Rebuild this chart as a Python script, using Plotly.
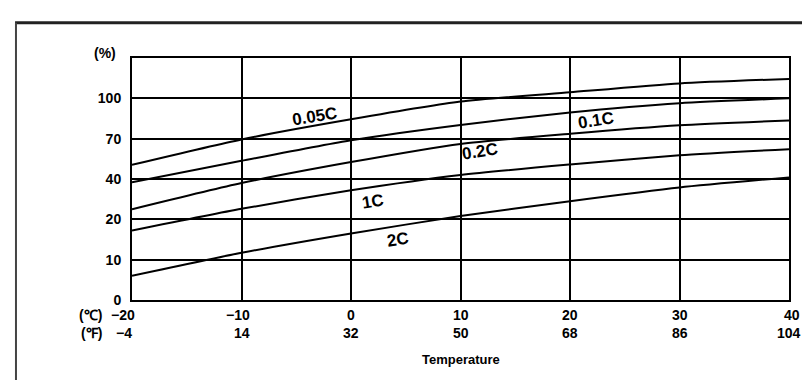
import plotly.graph_objects as go

# ---- data ----
temp_c = [-20, -10, 0, 10, 20, 30, 40]
temp_f = [-4, 14, 32, 50, 68, 86, 104]
# capacity curves, given as positions on the chart's non-uniform % scale
# (0 -> "0", 1 -> "10", 2 -> "20", 3 -> "40", 4 -> "70", 5 -> "100")
cap_005C = [3.35, 3.98, 4.48, 4.92, 5.15, 5.37, 5.48]
cap_01C = [2.92, 3.45, 3.96, 4.34, 4.65, 4.88, 5.00]
cap_02C = [2.25, 2.90, 3.42, 3.87, 4.12, 4.33, 4.45]
cap_1C = [1.72, 2.26, 2.72, 3.10, 3.36, 3.59, 3.74]
cap_2C = [0.60, 1.17, 1.65, 2.08, 2.45, 2.79, 3.04]
y_tick_pos = [0, 1, 2, 3, 4, 5]
y_tick_text = ["0", "10", "20", "40", "70", "100"]
series_names = ["0.05C", "0.1C", "0.2C", "1C", "2C"]
series_values = [cap_005C, cap_01C, cap_02C, cap_1C, cap_2C]
# label anchor positions (temperature, scale position)
label_x = [-3.3, 22.4, 11.8, 2.0, 4.3]
label_y = [4.55, 4.45, 3.68, 2.43, 1.50]

FONT = "Liberation Sans, Arial, sans-serif"


def f(size):
    return dict(family=FONT, size=size, color="black", weight="bold")


fig = go.Figure()
for name, vals in zip(series_names, series_values):
    fig.add_trace(go.Scatter(
        x=temp_c, y=vals, mode="lines", name=name,
        line=dict(color="black", width=2, shape="spline", smoothing=0.6),
        showlegend=False, hoverinfo="skip"))

annotations = []
for name, lx, ly in zip(series_names, label_x, label_y):
    annotations.append(dict(x=lx, y=ly, xref="x", yref="y", text=name,
                            showarrow=False, textangle=-9, font=f(17)))

# x tick labels: two rows (°C and °F)
for c, fv in zip(temp_c, temp_f):
    if c == -20:
        kw_c = dict(xanchor="right", xshift=5)
    elif c < 0:
        kw_c = dict(xanchor="center", xshift=-4)
    elif c == 40:
        kw_c = dict(xanchor="center", xshift=3)
    else:
        kw_c = dict(xanchor="center", xshift=0)
    kw_f = dict(xanchor="right", xshift=2) if fv < 0 else dict(xanchor="center", xshift=0)
    annotations.append(dict(x=c, y=-0.06, xref="x", yref="paper", text=str(c).replace("-", "−"),
                            showarrow=False, yanchor="middle", font=f(14), **kw_c))
    annotations.append(dict(x=c, y=-0.137, xref="x", yref="paper", text=str(fv).replace("-", "−"),
                            showarrow=False, yanchor="middle", font=f(14), **kw_f))

annotations += [
    dict(x=-0.043, y=-0.06, xref="paper", yref="paper", text="(℃)", showarrow=False,
         xanchor="right", yanchor="middle", font=f(14)),
    dict(x=-0.043, y=-0.137, xref="paper", yref="paper", text="(℉)", showarrow=False,
         xanchor="right", yanchor="middle", font=f(14)),
    dict(x=0.5, y=-0.245, xref="paper", yref="paper", text="Temperature", showarrow=False,
         xanchor="center", yanchor="middle", font=f(13)),
    dict(x=-0.021, y=1.02, xref="paper", yref="paper", text="(%)", showarrow=False,
         xanchor="right", yanchor="middle", font=f(14)),
]

shapes = [
    # outer frame (top and left edges of the enclosing box)
    dict(type="line", xref="paper", yref="paper", x0=-0.178, x1=1.1, y0=1.146, y1=1.146,
         line=dict(color="#222", width=3)),
    dict(type="line", xref="paper", yref="paper", x0=-0.1766, x1=-0.1766, y0=1.146, y1=-0.45,
         line=dict(color="#444", width=2)),
]

fig.update_layout(
    width=810, height=380,
    margin=dict(l=124, r=29, t=50, b=88),
    paper_bgcolor="white", plot_bgcolor="white",
    annotations=annotations, shapes=shapes,
    font=dict(family=FONT, size=14, color="black"),
    xaxis=dict(range=[-20, 40], tickvals=temp_c, showticklabels=False,
               showgrid=True, gridcolor="black", gridwidth=1.5,
               showline=True, linecolor="black", linewidth=2, mirror=True,
               zeroline=False, ticks="", fixedrange=True),
    yaxis=dict(range=[0, 6], tickvals=y_tick_pos, ticktext=y_tick_text,
               showgrid=True, gridcolor="black", gridwidth=1.5,
               showline=True, linecolor="black", linewidth=2, mirror=True,
               zeroline=False, ticks="", ticklabelstandoff=6,
               tickfont=f(14), fixedrange=True),
)

fig.write_html("out.html")
